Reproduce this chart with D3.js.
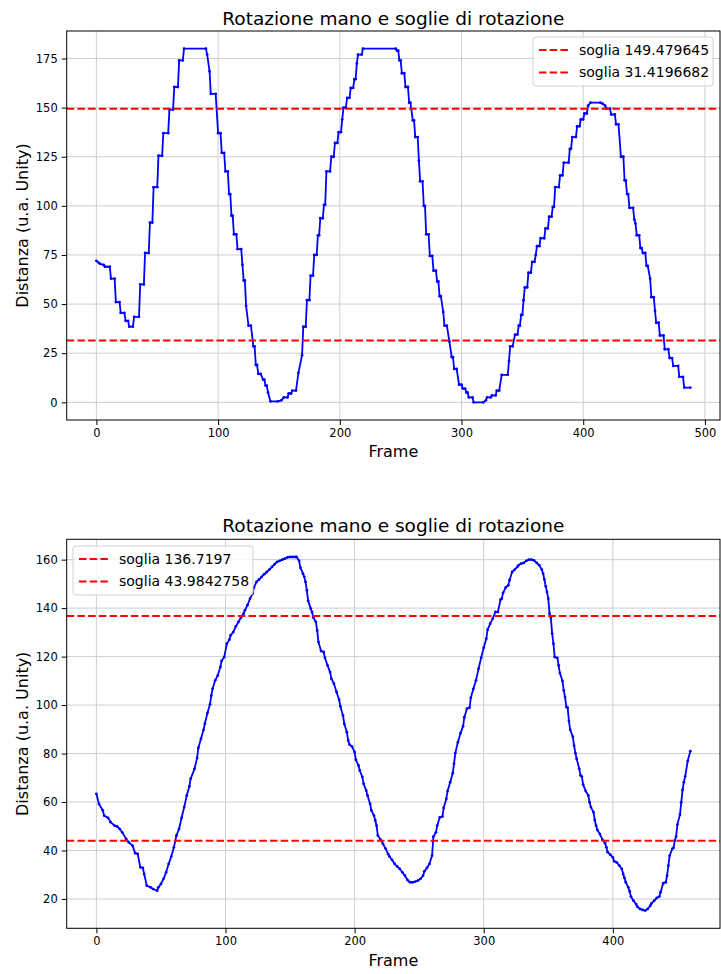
<!DOCTYPE html>
<html>
<head>
<meta charset="utf-8">
<script src="https://cdn.jsdelivr.net/npm/d3@7"></script>
<style>
    body { margin: 0; background: #fff; }
    text { font-family: 'DejaVu Sans', sans-serif; }
</style>
</head>
<body>
<div id="wrapper"></div>
<script>
// primo grafico: rotazione a gradini (inizio/fine di ogni gradino)
const topFrames = [0,2,3,6,7,11,12,15,16,19,20,23,24,26,27,30,31,35,36,39,40,43,44,46,47,50,51,54,55,59,60,63,64,67,68,71,72,90,91,93,94,98,100,102,103,105,106,108,109,110,111,112,113,115,116,119,120,121,122,123,125,127,129,130,131,132,133,135,137,138,139,140,141,143,149,152,154,157,158,160,161,164,166,169,170,172,173,175,176,178,179,181,182,183,184,186,187,188,189,192,193,195,196,198,199,201,202,203,205,206,208,209,211,212,213,214,215,218,219,246,247,248,249,250,251,253,254,256,257,258,260,261,262,264,265,266,268,269,270,271,273,274,276,277,279,280,281,282,283,285,286,288,290,292,293,294,296,298,300,301,303,304,305,306,309,310,318,320,321,324,325,328,329,331,333,338,339,340,342,344,346,347,348,349,350,351,352,354,355,357,358,360,361,362,364,365,368,369,371,372,374,375,376,377,380,381,383,384,388,389,390,391,394,395,397,398,400,401,403,404,406,414,416,418,419,422,423,426,427,429,431,433,434,435,436,437,438,441,442,443,444,446,447,448,449,451,452,453,455,456,458,459,460,462,463,466,467,470,471,473,474,478,479,482,483,488]
const topValues = [72,71,70.5,70,69,69,63,63,51,51,45.5,45.5,41.5,41.5,38.5,38.5,43.5,43.5,60,60,76,76,91.5,91.5,109.5,109.5,125.5,125.5,137,137,149,149,160.5,160.5,174,174,180,180,177,168.5,157,157,137,137,127,127,117.5,117.5,106,106,95,95,85.5,85.5,78,78,70,62,62,49,39,39,28.5,28.5,19,19,14.5,14.5,11.5,11.5,8.5,8.5,5,0.5,0.5,1,2.5,2.5,4.5,4.5,6,6,15,24,38.5,38.5,52,52,64.5,64.5,75,75,85,85,93.7,93.7,100.5,100.5,117.5,117.5,125,125,132,132,137.5,137.5,144,150,150,155,155,160,160,164.5,164.5,172.5,177,177,180,180,179,179,174,174,167.5,167.5,160.5,160.5,152.5,152.5,143.5,143.5,135,135,123,112.5,112.5,100,100,85.5,85.5,74.5,74.5,67,67,61.5,61.5,54,54,46,39,39,31,23,23,17,17,9,9,7,7,5,5,2.5,2.5,0,0,1,2.5,2.5,3.5,3.5,6,6,14,14,21,28.5,28.5,34.5,34.5,39,39,44.5,44.5,52,58.5,58.5,66,66,71.5,71.5,75,79.5,79.5,83.5,83.5,88.5,88.5,94.5,94.5,99.5,99.5,109.5,109.5,115.5,115.5,122,122,129,129,135,135,140.5,140.5,144,144,147,147,151,152.5,152.5,152,151,149.5,149.5,146.5,146.5,141.5,141.5,125,125,113,113,106,106,99,99,93,91,85,85,78.5,78.5,76,76,69.5,69.5,63,53.5,53.5,46.5,40.5,40.5,34,34,27,27,22.5,22.5,18.5,18.5,13,13,7.5,7.5]
const topThresholds = [149.479645, 31.4196682]
const topLegend = ['soglia 149.479645', 'soglia 31.4196682']
const topXTicks = [0, 100, 200, 300, 400, 500]
const topYTicks = [0, 25, 50, 75, 100, 125, 150, 175]

// secondo grafico: rotazione continua
const bottomFrames = [0,2,5,6,9,11,14,16,18,20,23,25,28,30,32,34,36,37,39,42,44,47,48,50,52,54,56,58,60,62,64,66,68,70,72,73,76,78,79,81,83,84,86,88,89,90,92,94,96,97,99,101,103,104,106,108,110,112,114,115,117,119,121,122,124,126,128,130,132,134,136,138,140,142,144,146,148,150,152,154,155,157,158,160,161,162,163,164,166,167,168,170,171,172,174,176,177,179,181,182,184,186,188,189,191,192,194,195,196,198,200,201,203,204,206,207,209,210,212,213,215,216,217,218,220,222,224,226,227,229,231,233,235,237,239,241,243,245,247,249,251,253,254,256,258,260,261,263,264,266,268,269,271,272,274,276,277,278,280,282,284,285,287,289,290,292,294,296,298,300,302,303,305,307,309,311,313,314,315,317,319,320,322,324,326,327,329,331,333,335,337,339,341,343,345,346,347,348,349,350,351,352,353,354,355,357,358,359,361,362,363,364,365,366,367,369,370,371,372,374,375,376,377,379,381,382,383,385,386,387,388,390,392,394,395,396,398,400,401,403,405,407,408,409,410,412,413,414,416,418,419,421,423,425,427,429,430,432,434,436,437,439,441,442,443,444,446,447,448,449,450,452,453,454,455,456,458,460]
const bottomValues = [63.4,59.2,56.5,54.4,53.5,51.7,50.3,49.9,48.9,47.5,44.8,43.4,42,38.9,38.6,33.1,32.8,30.3,25.5,24.8,24.1,23.4,24.8,26.2,28.3,31,34.5,37.5,41.3,46.2,48.9,53.5,57.9,62.7,66.4,69.6,73.7,78.2,82.4,86.1,89.8,92.3,96.7,100.3,104,106.7,110.2,112.2,115.7,118.2,119.8,125.3,127,128.8,130.1,132.5,134.3,136.1,137.7,139.1,141.2,143.9,146,148.5,150.8,151.8,152.9,154,154.9,155.9,157,158.1,159.1,159.5,160,160.4,160.9,161.1,161.1,161.1,161.1,159.5,156.7,154.2,152.9,150.8,147.4,143,139.8,138.4,136.1,134.3,130.8,126,122.3,121.9,119.5,116.4,113.6,110.9,108.8,105.4,102.2,99.4,95.7,92.3,88.8,85.4,83.7,82.9,80.6,77.4,75.1,73,70.3,67.5,64.7,62.7,59.2,56.5,54.4,52.4,50.3,46.2,44.5,42.7,40.8,38.5,37.5,36.1,34.5,33.4,32.4,31,29.6,27.8,26.9,26.9,27.2,27.6,28.3,29.6,31.4,32.8,34.5,37.9,45.7,47.5,50.3,53.7,54,57.6,61.3,64.5,68.2,71.9,75.8,80.2,84.7,88.4,91.2,95,98.5,98.9,103,106.7,110.2,115,119.5,123.7,127.4,131.1,133.6,135.7,138.4,138.4,143.5,143.9,146.3,148.5,149.4,151.5,154.9,155.9,157,157.7,158.4,158.7,159.5,160,160,159.7,158.7,157.7,155.9,154.2,151.8,149,146.7,143.9,137.7,136.1,129.5,125.3,119.8,119.5,116.4,113.2,109.9,106,103.3,99.2,98.9,93.4,89.8,87,83.3,80.2,77.8,73.7,70.9,70.5,67.2,64.5,62.7,59.9,57.9,55.8,52.6,50.3,48.5,46.8,44.4,43,41.3,39.3,38.3,37.2,35.6,35.1,33.8,32.4,30.3,28.7,26.9,24.8,23.2,21,19.3,17.9,16.8,15.9,15.5,15.2,15.9,17.2,18.2,19.3,20.4,21,22.8,26.5,26.9,29.6,33.8,37.9,40.7,41.1,44.1,45.7,50.7,54.8,59.9,65,68.2,70.5,76.9,81]
const bottomThresholds = [136.7197, 43.9842758]
const bottomLegend = ['soglia 136.7197', 'soglia 43.9842758']
const bottomXTicks = [0, 100, 200, 300, 400]
const bottomYTicks = [20, 40, 60, 80, 100, 120, 140, 160]

const titleText = 'Rotazione mano e soglie di rotazione'
const xLabelText = 'Frame'
const yLabelText = 'Distanza (u.a. Unity)'

const svg = d3.select('#wrapper')
    .append('svg')
        .attr('width', 721)
        .attr('height', 974)

// dominio con margine del 5% come matplotlib
function padded(values) {
    const [lo, hi] = d3.extent(values)
    const m = (hi - lo) * 0.05
    return [lo - m, hi + m]
}

function drawPanel(p) {
    const x = d3.scaleLinear().domain(padded(p.frames)).range([p.left, p.right])
    const y = d3.scaleLinear().domain(padded(p.values)).range([p.bottom, p.top])
    const g = svg.append('g')

    // griglia
    g.selectAll('.gx').data(p.xTicks).join('line')
        .attr('x1', d => x(d)).attr('x2', d => x(d))
        .attr('y1', p.top).attr('y2', p.bottom)
        .attr('stroke', '#cfcfcf').attr('stroke-width', 1)
    g.selectAll('.gy').data(p.yTicks).join('line')
        .attr('x1', p.left).attr('x2', p.right)
        .attr('y1', d => y(d)).attr('y2', d => y(d))
        .attr('stroke', '#cfcfcf').attr('stroke-width', 1)

    const pts = p.frames.map((f, i) => [f, p.values[i]])

    g.append('path')
        .datum(pts)
        .attr('fill', 'none')
        .attr('stroke', 'blue')
        .attr('stroke-width', 1.8)
        .attr('stroke-linejoin', 'round')
        .attr('d', d3.line().x(d => x(d[0])).y(d => y(d[1])))

    g.selectAll('.dot').data(pts).join('circle')
        .attr('cx', d => x(d[0]))
        .attr('cy', d => y(d[1]))
        .attr('r', 1.4)
        .attr('fill', 'blue')

    g.selectAll('.soglia').data(p.thresholds).join('line')
        .attr('x1', p.left).attr('x2', p.right)
        .attr('y1', d => y(d)).attr('y2', d => y(d))
        .attr('stroke', 'red')
        .attr('stroke-width', 2)
        .attr('stroke-dasharray', '7.5,3.2')

    // assi
    const ax = g.append('g')
        .attr('transform', `translate(0,${p.bottom})`)
        .call(d3.axisBottom(x).tickValues(p.xTicks).tickSize(5).tickPadding(4).tickSizeOuter(0))
    const ay = g.append('g')
        .attr('transform', `translate(${p.left},0)`)
        .call(d3.axisLeft(y).tickValues(p.yTicks).tickSize(5).tickPadding(4).tickSizeOuter(0))
    ax.select('.domain').remove()
    ay.select('.domain').remove()
    g.selectAll('.tick text')
        .attr('font-family', 'DejaVu Sans')
        .attr('font-size', 11.5)
        .attr('fill', '#000')

    g.append('rect')
        .attr('x', p.left).attr('y', p.top)
        .attr('width', p.right - p.left).attr('height', p.bottom - p.top)
        .attr('fill', 'none')
        .attr('stroke', '#000')
        .attr('stroke-width', 1)

    // testi
    g.append('text')
        .attr('x', (p.left + p.right) / 2).attr('y', p.titleY)
        .attr('text-anchor', 'middle')
        .attr('font-size', 18.5)
        .text(titleText)
    g.append('text')
        .attr('x', (p.left + p.right) / 2).attr('y', p.xLabelY)
        .attr('text-anchor', 'middle')
        .attr('font-size', 16)
        .text(xLabelText)
    g.append('text')
        .attr('transform', `translate(28,${(p.top + p.bottom) / 2}) rotate(-90)`)
        .attr('text-anchor', 'middle')
        .attr('font-size', 16)
        .text(yLabelText)

    // legenda
    const lg = g.append('g').attr('transform', `translate(${p.legend[0]},${p.legend[1]})`)
    lg.append('rect')
        .attr('width', p.legend[2]).attr('height', 49)
        .attr('rx', 3)
        .attr('fill', 'white').attr('fill-opacity', 0.8)
        .attr('stroke', '#d0d0d0')
    p.labels.forEach((lab, i) => {
        lg.append('line')
            .attr('x1', 6).attr('x2', 36)
            .attr('y1', 13 + i * 22.5).attr('y2', 13 + i * 22.5)
            .attr('stroke', 'red').attr('stroke-width', 2)
            .attr('stroke-dasharray', '7.5,3.2')
        lg.append('text')
            .attr('x', 46).attr('y', 13 + i * 22.5)
            .attr('dy', '0.35em')
            .attr('font-size', 14)
            .text(lab)
    })
}

drawPanel({
    left: 66.7, right: 720, top: 31, bottom: 420,
    frames: topFrames, values: topValues,
    thresholds: topThresholds, labels: topLegend,
    xTicks: topXTicks, yTicks: topYTicks,
    titleY: 25, xLabelY: 457,
    legend: [533, 37, 180]
})

drawPanel({
    left: 66.7, right: 720, top: 539.3, bottom: 928.3,
    frames: bottomFrames, values: bottomValues,
    thresholds: bottomThresholds, labels: bottomLegend,
    xTicks: bottomXTicks, yTicks: bottomYTicks,
    titleY: 532, xLabelY: 966,
    legend: [73, 546, 180]
})
</script>
</body>
</html>
